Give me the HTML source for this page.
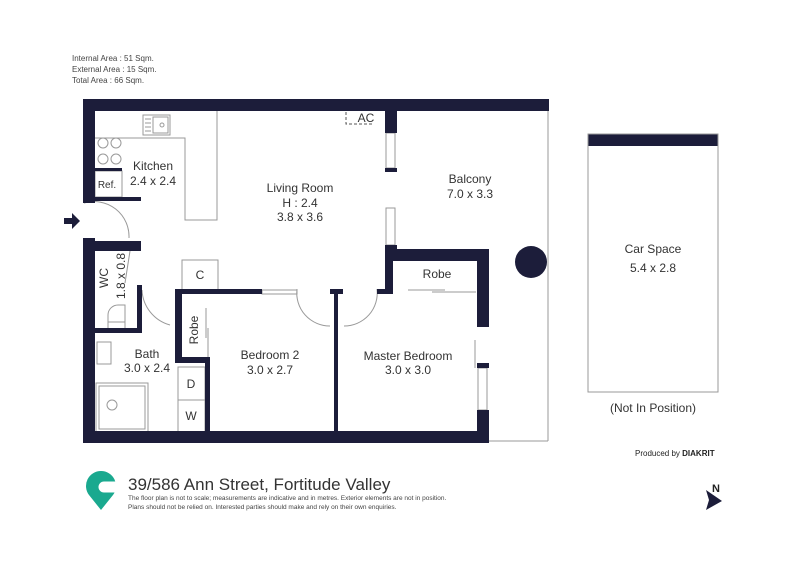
<!DOCTYPE html>
<html><head><style>
body{margin:0;background:#fff;}
svg{display:block;font-family:"Liberation Sans",sans-serif;}
</style></head><body>
<svg width="800" height="566" viewBox="0 0 800 566" xmlns="http://www.w3.org/2000/svg">
<g font-size="8" fill="#444">
<text x="72" y="61">Internal Area : 51 Sqm.</text>
<text x="72" y="72">External Area : 15 Sqm.</text>
<text x="72" y="83">Total Area : 66 Sqm.</text>
</g>
<g fill="none" stroke="#999" stroke-width="1">
<line x1="548" y1="110" x2="548" y2="441"/>
<line x1="489" y1="441" x2="548" y2="441"/>
<polyline points="95,138 185,138 185,220 217,220 217,111"/>
<rect x="143" y="115" width="27" height="20"/>
<rect x="153" y="117" width="15" height="16"/>
<line x1="145" y1="119" x2="151" y2="119"/><line x1="145" y1="123" x2="151" y2="123"/><line x1="145" y1="127" x2="151" y2="127"/><line x1="145" y1="131" x2="151" y2="131"/>
<circle cx="162" cy="125" r="2"/>
<rect x="95" y="171" width="27" height="26"/>
<rect x="182" y="260" width="36" height="30"/>
<rect x="178" y="367" width="27" height="33"/>
<rect x="178" y="400" width="27" height="32"/>
<rect x="97" y="342" width="14" height="22"/>
<rect x="96" y="383" width="52" height="49"/>
<rect x="99" y="386" width="46" height="43"/>
<circle cx="112" cy="405" r="5"/>
<circle cx="103" cy="143" r="5"/><circle cx="116" cy="143" r="5"/>
<circle cx="103" cy="159" r="5"/><circle cx="116" cy="159" r="5"/>
<path d="M84,203 A35,35 0 0 1 129,238"/>
<path d="M142,290 A38,38 0 0 0 170,325"/>
<path d="M297,289 A33,33 0 0 0 330,326"/>
<path d="M377,289 A33,33 0 0 1 344,326"/>
<line x1="130" y1="251" x2="125" y2="283"/>
<path d="M108,333 L108,315 A10,10 0 0 1 118,305 L125,305 L125,333"/>
<line x1="108" y1="322" x2="125" y2="322"/>
<rect x="386" y="133" width="9" height="35"/>
<rect x="386" y="208" width="9" height="37"/>
<rect x="262" y="290" width="35" height="4"/>
<rect x="478" y="368" width="9" height="42"/>
<line x1="408" y1="290" x2="445" y2="290"/><line x1="432" y1="292" x2="476" y2="292"/>
<line x1="206" y1="308" x2="206" y2="338"/><line x1="208" y1="328" x2="208" y2="358"/>
<line x1="475" y1="340" x2="475" y2="368"/>
</g>
<path d="M346,112 v12 h28" fill="none" stroke="#555" stroke-width="1" stroke-dasharray="3,2"/>
<g fill="#1c1d3a">
<rect x="83" y="99" width="466" height="12"/>
<rect x="83" y="99" width="12" height="104"/>
<rect x="83" y="238" width="12" height="205"/>
<rect x="83" y="431" width="406" height="12"/>
<rect x="385" y="111" width="12" height="22"/>
<rect x="385" y="168" width="12" height="4"/>
<rect x="385" y="245" width="12" height="16"/>
<rect x="385" y="249" width="104" height="12"/>
<rect x="385" y="249" width="8" height="44"/>
<rect x="477" y="249" width="12" height="78"/>
<rect x="477" y="363" width="12" height="5"/>
<rect x="477" y="410" width="12" height="33"/>
<rect x="95" y="197" width="46" height="4"/>
<rect x="95" y="168" width="27" height="3"/>
<rect x="95" y="241" width="46" height="10"/>
<rect x="137" y="285" width="5" height="48"/>
<rect x="95" y="328" width="47" height="5"/>
<rect x="175" y="289" width="87" height="5"/>
<rect x="330" y="289" width="13" height="5"/>
<rect x="377" y="289" width="16" height="5"/>
<rect x="334" y="289" width="4" height="143"/>
<rect x="175" y="289" width="7" height="73"/>
<rect x="175" y="357" width="35" height="6"/>
<rect x="205" y="357" width="5" height="75"/>
<circle cx="531" cy="262" r="16"/>
<path d="M64,218 h8 v-5 l8,8 l-8,8 v-5 h-8z"/>
<rect x="588" y="134" width="130" height="12"/>
</g>
<rect x="588" y="134" width="130" height="258" fill="none" stroke="#999"/>
<g fill="#333" font-size="12" text-anchor="middle">
<text x="153" y="170">Kitchen</text>
<text x="153" y="185">2.4 x 2.4</text>
<text x="107" y="188" font-size="10">Ref.</text>
<text x="300" y="192">Living Room</text>
<text x="300" y="207">H : 2.4</text>
<text x="300" y="221">3.8 x 3.6</text>
<text x="366" y="122">AC</text>
<text x="470" y="183">Balcony</text>
<text x="470" y="198">7.0 x 3.3</text>
<text x="437" y="278">Robe</text>
<text x="200" y="279">C</text>
<text x="147" y="358">Bath</text>
<text x="147" y="372">3.0 x 2.4</text>
<text x="270" y="359">Bedroom 2</text>
<text x="270" y="374">3.0 x 2.7</text>
<text x="408" y="360">Master Bedroom</text>
<text x="408" y="374">3.0 x 3.0</text>
<text x="191" y="388">D</text>
<text x="191" y="420">W</text>
<text x="653" y="253">Car Space</text>
<text x="653" y="272">5.4 x 2.8</text>
<text x="653" y="412">(Not In Position)</text>
<text transform="translate(108,278) rotate(-90)">WC</text>
<text transform="translate(125,276) rotate(-90)">1.8 x 0.8</text>
<text transform="translate(198,330) rotate(-90)">Robe</text>
</g>
<text x="635" y="456" font-size="8" fill="#222">Produced by <tspan font-weight="bold">DIAKRIT</tspan></text>
<path d="M101,471 A15,15 0 0 0 89,495 L101,510 L113,495 A15,15 0 0 0 101,471Z" fill="#1aa98f"/>
<circle cx="104" cy="487" r="5.5" fill="#fff"/>
<rect x="104" y="481.5" width="14" height="11" fill="#fff"/>
<text x="128" y="490" font-size="17" fill="#333">39/586 Ann Street, Fortitude Valley</text>
<text x="128" y="500" font-size="6.5" fill="#444">The floor plan is not to scale; measurements are indicative and in metres. Exterior elements are not in position.</text>
<text x="128" y="509" font-size="6.5" fill="#444">Plans should not be relied on. Interested parties should make and rely on their own enquiries.</text>
<text x="712" y="492" font-size="11" font-weight="bold" fill="#222">N</text>
<path d="M706,490 l16,11 l-16,9 l3,-10z" fill="#1c1d3a"/>
</svg>
</body></html>
